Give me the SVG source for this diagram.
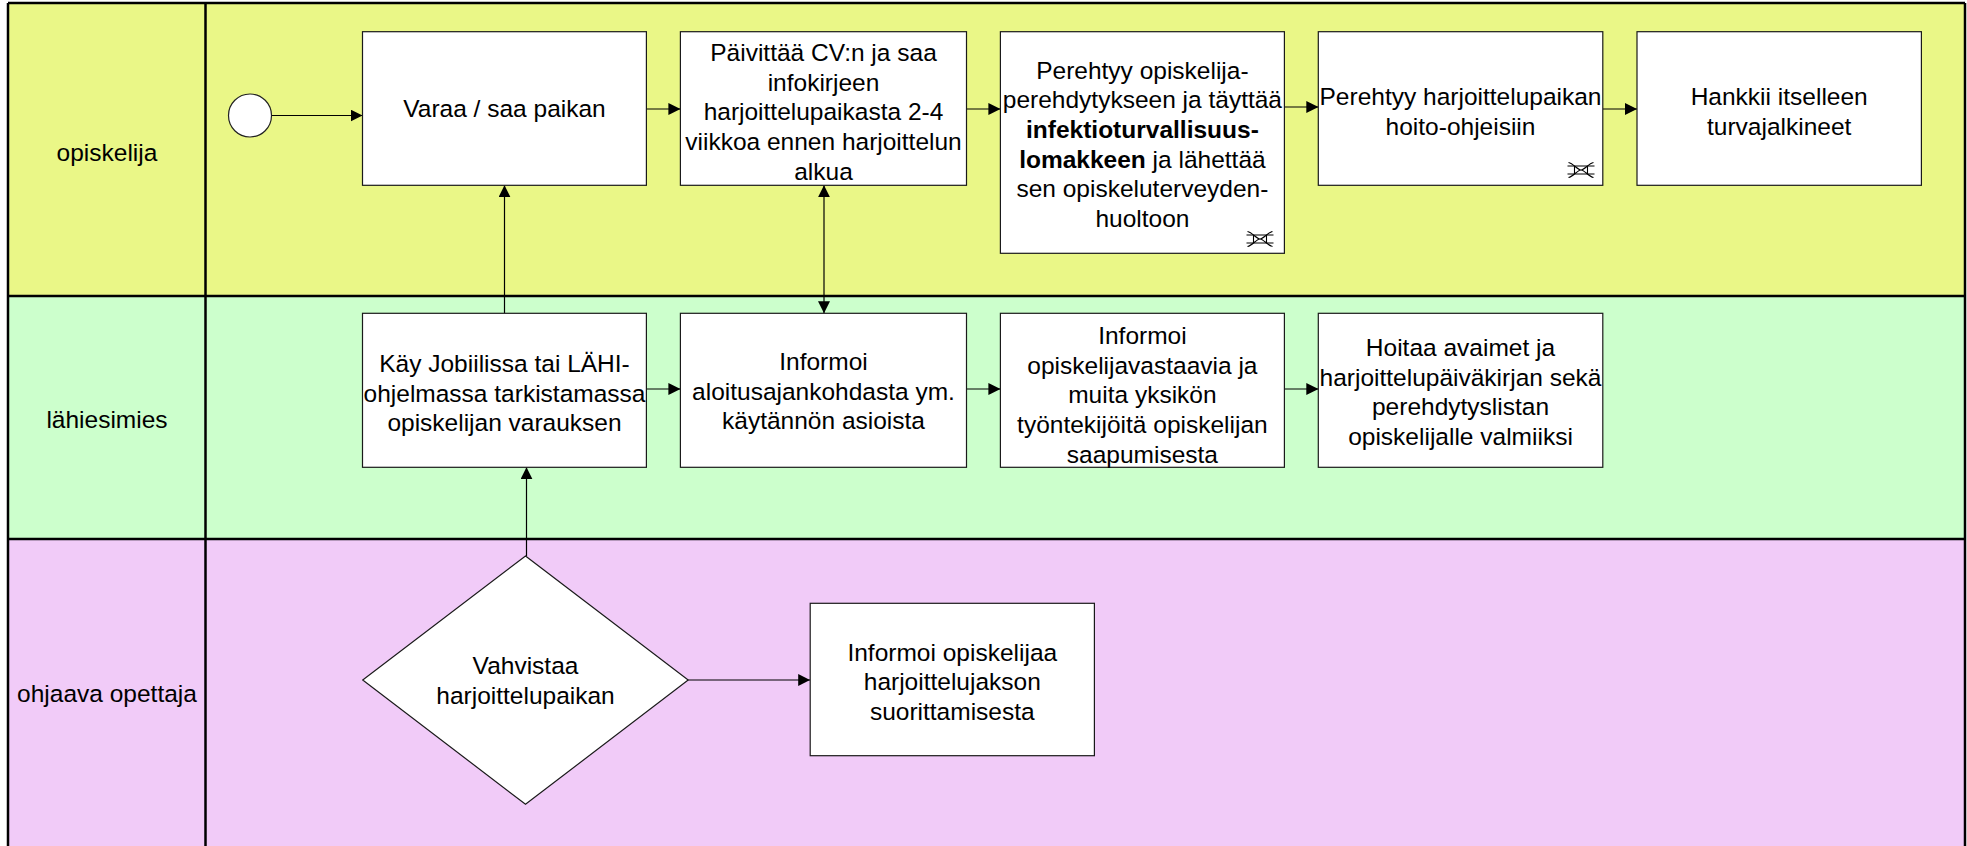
<svg xmlns="http://www.w3.org/2000/svg" width="1967" height="846" viewBox="0 0 1967 846">
<style>
text{font-family:"Liberation Sans",Arial,sans-serif;font-size:24.5px;fill:#000;text-anchor:middle}
.box{fill:#fff;stroke:#1a1a1a;stroke-width:1.2}
.conn{fill:none;stroke:#000;stroke-width:1.2}
.lane-border{fill:none;stroke:#000;stroke-width:2.5}
.icon{fill:none;stroke:#000;stroke-width:1.1}
.b{font-weight:bold}
</style>
<defs>
<marker id="arr" markerUnits="userSpaceOnUse" markerWidth="12" markerHeight="12" refX="12" refY="6" orient="auto-start-reverse">
<path d="M0,0 L12,6 L0,12 z" fill="#000"/>
</marker>
<g id="loopicon" class="icon">
<path d="M0,3.5 H27 M0,11.5 H27 M7,3.5 V11.5 M20,3.5 V11.5"/>
<path d="M1,0 C6,1 10,7.5 13.5,7.5 C17,7.5 21,1 26,0 M1,15 C6,14 10,7.5 13.5,7.5 C17,7.5 21,14 26,15"/>
</g>
</defs>
<g id="lanes">
<rect x="8" y="3" width="1957" height="293" fill="#EAF787"/>
<rect x="8" y="296" width="1957" height="243" fill="#CCFFCC"/>
<rect x="8" y="539" width="1957" height="312" fill="#F1CBF8"/>
<path class="lane-border" d="M8,3 H1965 M8,296 H1965 M8,539 H1965 M8,3 V851 M1965,3 V851 M205.5,3 V851"/>
<text x="107" y="160.5">opiskelija</text>
<text x="107" y="427.5">lähiesimies</text>
<text x="107" y="701.5">ohjaava opettaja</text>
</g>
<g id="connectors">
<path class="conn" marker-end="url(#arr)" d="M271.5,115.5 H362.5"/>
<path class="conn" marker-end="url(#arr)" d="M646.4,109 H680.4"/>
<path class="conn" marker-end="url(#arr)" d="M966.5,109 H1000.4"/>
<path class="conn" marker-end="url(#arr)" d="M1284.4,107 H1318.3"/>
<path class="conn" marker-end="url(#arr)" d="M1602.8,109 H1637"/>
<path class="conn" marker-end="url(#arr)" d="M504.5,313.3 V185.3"/>
<path class="conn" marker-end="url(#arr)" d="M526.5,556 V467.3"/>
<path class="conn" marker-start="url(#arr)" marker-end="url(#arr)" d="M824,185.3 V313.3"/>
<path class="conn" marker-end="url(#arr)" d="M646.4,389 H680.4"/>
<path class="conn" marker-end="url(#arr)" d="M966.5,389 H1000.4"/>
<path class="conn" marker-end="url(#arr)" d="M1284.4,389 H1318.3"/>
<path class="conn" marker-end="url(#arr)" d="M688.2,680 H810.2"/>
</g>
<g id="start">
<circle cx="250" cy="115.5" r="21.5" fill="#fff" stroke="#222" stroke-width="1.2"/>
</g>
<g id="varaa">
<rect class="box" x="362.5" y="31.7" width="283.9" height="153.6"/>
<text x="504.5" y="117.3">Varaa / saa paikan</text>
</g>
<g id="paivittaa">
<rect class="box" x="680.4" y="31.7" width="286.1" height="153.6"/>
<text x="823.5" y="61">Päivittää CV:n ja saa</text>
<text x="823.5" y="90.7">infokirjeen</text>
<text x="823.5" y="120.4">harjoittelupaikasta 2-4</text>
<text x="823.5" y="150.1">viikkoa ennen harjoittelun</text>
<text x="823.5" y="179.8">alkua</text>
</g>
<g id="perehtyy1">
<rect class="box" x="1000.4" y="31.7" width="284" height="221.6"/>
<text x="1142.4" y="78.5">Perehtyy opiskelija-</text>
<text x="1142.4" y="108.2">perehdytykseen ja täyttää</text>
<text x="1142.4" y="137.9" class="b">infektioturvallisuus-</text>
<text x="1142.4" y="167.6"><tspan class="b">lomakkeen</tspan> ja lähettää</text>
<text x="1142.4" y="197.3">sen opiskeluterveyden-</text>
<text x="1142.4" y="227">huoltoon</text>
<use href="#loopicon" x="1246.5" y="231.5"/>
</g>
<g id="perehtyy2">
<rect class="box" x="1318.3" y="31.7" width="284.5" height="153.6"/>
<text x="1460.5" y="105.2">Perehtyy harjoittelupaikan</text>
<text x="1460.5" y="134.9">hoito-ohjeisiin</text>
<use href="#loopicon" x="1567.5" y="162.5"/>
</g>
<g id="hankkii">
<rect class="box" x="1637" y="31.7" width="284.4" height="153.6"/>
<text x="1779.2" y="105.2">Hankkii itselleen</text>
<text x="1779.2" y="134.9">turvajalkineet</text>
</g>
<g id="kay">
<rect class="box" x="362.5" y="313.3" width="283.9" height="154"/>
<text x="504.5" y="371.8">Käy Jobiilissa tai LÄHI-</text>
<text x="504.5" y="401.5">ohjelmassa tarkistamassa</text>
<text x="504.5" y="431.2">opiskelijan varauksen</text>
</g>
<g id="informoi1">
<rect class="box" x="680.4" y="313.3" width="286.1" height="154"/>
<text x="823.5" y="370">Informoi</text>
<text x="823.5" y="399.7">aloitusajankohdasta ym.</text>
<text x="823.5" y="429.4">käytännön asioista</text>
</g>
<g id="informoi2">
<rect class="box" x="1000.4" y="313.3" width="284" height="154"/>
<text x="1142.4" y="344">Informoi</text>
<text x="1142.4" y="373.7">opiskelijavastaavia ja</text>
<text x="1142.4" y="403.4">muita yksikön</text>
<text x="1142.4" y="433.1">työntekijöitä opiskelijan</text>
<text x="1142.4" y="462.8">saapumisesta</text>
</g>
<g id="hoitaa">
<rect class="box" x="1318.3" y="313.3" width="284.5" height="154"/>
<text x="1460.5" y="356">Hoitaa avaimet ja</text>
<text x="1460.5" y="385.7">harjoittelupäiväkirjan sekä</text>
<text x="1460.5" y="415.4">perehdytyslistan</text>
<text x="1460.5" y="445.1">opiskelijalle valmiiksi</text>
</g>
<g id="vahvistaa">
<path class="box" d="M525.5,556 L688.2,680 L525.5,804.3 L362.7,680 Z"/>
<text x="525.5" y="674">Vahvistaa</text>
<text x="525.5" y="703.7">harjoittelupaikan</text>
</g>
<g id="informoi3">
<rect class="box" x="810.2" y="603.3" width="284.2" height="152.4"/>
<text x="952.3" y="660.7">Informoi opiskelijaa</text>
<text x="952.3" y="690.4">harjoittelujakson</text>
<text x="952.3" y="720.1">suorittamisesta</text>
</g>
</svg>
